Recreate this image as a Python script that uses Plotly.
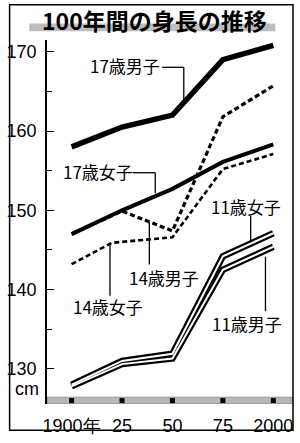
import plotly.graph_objects as go

# ---- data ----
years = [1900, 1925, 1950, 1975, 2000]
years_f14 = [1900, 1920, 1950, 1975, 2000]
male17 = [158.0, 160.5, 162.0, 169.0, 170.8]
female17 = [147.0, 150.0, 152.7, 156.1, 158.3]
male14 = [147.0, 149.9, 147.4, 161.8, 165.7]
female14 = [143.2, 145.9, 146.6, 155.2, 157.1]
female11 = [128.0, 131.0, 131.9, 144.2, 147.1]
male11 = [127.8, 130.6, 131.3, 142.5, 145.4]

tick_years = [1900, 1925, 1950, 1975, 2000]
tick_year_labels = ["1900年", "25", "50", "75", "2000"]
tick_cm = [130, 140, 150, 160, 170]
tick_cm_labels = ["130", "140", "150", "160", "170"]
title_text = "100年間の身長の推移"

W, H = 300, 443
L, R, T, B = 43, 293, 40, 413
XR = [1900 - 25 / 2.05, 2000 + 20 / 2.05]
YR = [130 - 36 / 8.125, 170 + 12 / 8.125]


def px2x(px):
    return XR[0] + (px - L) / (R - L) * (XR[1] - XR[0])


def py2y(py):
    return YR[1] - (py - T) / (B - T) * (YR[1] - YR[0])


def pxp(px):
    return (px - L) / (R - L)


def pyp(py):
    return (B - py) / (B - T)


JP = "Noto Sans CJK JP"
NUM = "Liberation Sans Narrow, Arial Narrow, Liberation Sans, Arial"

fig = go.Figure()

# bottom halftone band
band_y0, band_y1 = py2y(413), py2y(406)
fig.add_trace(go.Scatter(
    x=[XR[0], XR[1], XR[1], XR[0], XR[0]],
    y=[band_y0, band_y0, band_y1, band_y1, band_y0],
    fill="toself", mode="lines", line=dict(width=0.6, color="#666"),
    fillcolor="#b8b8b8", hoverinfo="skip", showlegend=False,
))
fig.add_trace(go.Scatter(
    x=tick_years, y=[py2y(409.5)] * len(tick_years), mode="markers",
    marker=dict(symbol="square", size=5, color="black"),
    hoverinfo="skip", showlegend=False, cliponaxis=False,
))

# 11-year-old double lines
for vals, xs in [(male11, years), (female11, years)]:
    fig.add_trace(go.Scatter(x=xs, y=vals, mode="lines",
                             line=dict(color="black", width=6.5),
                             showlegend=False))
for vals, xs in [(male11, years), (female11, years)]:
    fig.add_trace(go.Scatter(x=xs, y=vals, mode="lines",
                             line=dict(color="white", width=2.0),
                             showlegend=False))

fig.add_trace(go.Scatter(x=years, y=female17, mode="lines",
                         line=dict(color="black", width=4), showlegend=False))
fig.add_trace(go.Scatter(x=years, y=male17, mode="lines",
                         line=dict(color="black", width=5.5), showlegend=False))
fig.add_trace(go.Scatter(x=years, y=male14, mode="lines",
                         line=dict(color="black", width=3.2, dash="5px,3px"),
                         showlegend=False))
fig.add_trace(go.Scatter(x=years_f14, y=female14, mode="lines",
                         line=dict(color="black", width=2.6, dash="5px,3px"),
                         showlegend=False))

shapes = []
annotations = []

# frame
shapes.append(dict(type="rect", xref="paper", yref="paper",
                   x0=pxp(5), x1=pxp(293), y0=pyp(440), y1=pyp(4),
                   line=dict(color="black", width=1.5)))
# title band
shapes.append(dict(type="rect", xref="paper", yref="paper",
                   x0=pxp(25), x1=pxp(275), y0=pyp(31), y1=pyp(23),
                   fillcolor="#bdbdbd", line=dict(width=0), layer="below"))
annotations.append(dict(text="<b>" + title_text + "</b>", xref="paper", yref="paper",
                        x=pxp(152.5), y=pyp(19), showarrow=False,
                        font=dict(family=JP, size=23, color="black"),
                        xanchor="center", yanchor="middle"))

# leader lines (pixel paths)
leaders = [
    [(160, 68), (182, 68), (182, 104)],
    [(130, 176), (153, 176), (153, 197)],
    [(147, 227), (147, 270)],
    [(107, 248), (107, 302)],
    [(250, 220), (250, 246)],
    [(265, 262), (265, 318)],
]
for pts in leaders:
    for (a, b) in zip(pts[:-1], pts[1:]):
        shapes.append(dict(type="line", xref="x", yref="y",
                           x0=px2x(a[0]), y0=py2y(a[1]),
                           x1=px2x(b[0]), y1=py2y(b[1]),
                           line=dict(color="black", width=1.3)))

labels = [
    ("17歳男子", 122.5, 66),
    ("17歳女子", 95, 175),
    ("14歳男子", 161.5, 283),
    ("14歳女子", 104.5, 313),
    ("11歳女子", 245, 211),
    ("11歳男子", 246.5, 330),
]
for txt, cx, cy in labels:
    annotations.append(dict(text=txt, x=px2x(cx), y=py2y(cy), xref="x", yref="y",
                            showarrow=False, font=dict(family=JP, size=17, color="black"),
                            xanchor="center", yanchor="middle", bgcolor="rgba(255,255,255,0)"))

annotations.append(dict(text="cm", xref="paper", yref="paper", x=pxp(37), y=pyp(398),
                        showarrow=False, xanchor="right", yanchor="middle",
                        font=dict(family=NUM, size=18, color="black")))

fig.update_layout(
    width=W, height=H,
    margin=dict(l=L, r=W - R, t=T, b=H - B, pad=0),
    paper_bgcolor="white", plot_bgcolor="white",
    shapes=shapes, annotations=annotations,
    xaxis=dict(range=XR, tickvals=tick_years, ticktext=tick_year_labels,
               ticks="", showgrid=False, zeroline=False, showline=False,
               tickfont=dict(family=NUM, size=18, color="black"),
               ticklabelstandoff=9, fixedrange=True),
    yaxis=dict(range=YR, tickvals=tick_cm, ticktext=tick_cm_labels,
               ticks="inside", ticklen=7, tickwidth=1.3, tickcolor="black",
               minor=dict(ticks="inside", ticklen=5, tickwidth=1.3, tickcolor="black",
                          tickvals=[135, 145, 155, 165], showgrid=False),
               showgrid=False, zeroline=False, showline=True, linecolor="black",
               linewidth=1.5, tickfont=dict(family=NUM, size=18, color="black"),
               ticklabelstandoff=5, fixedrange=True),
)

fig.write_html("out.html")
